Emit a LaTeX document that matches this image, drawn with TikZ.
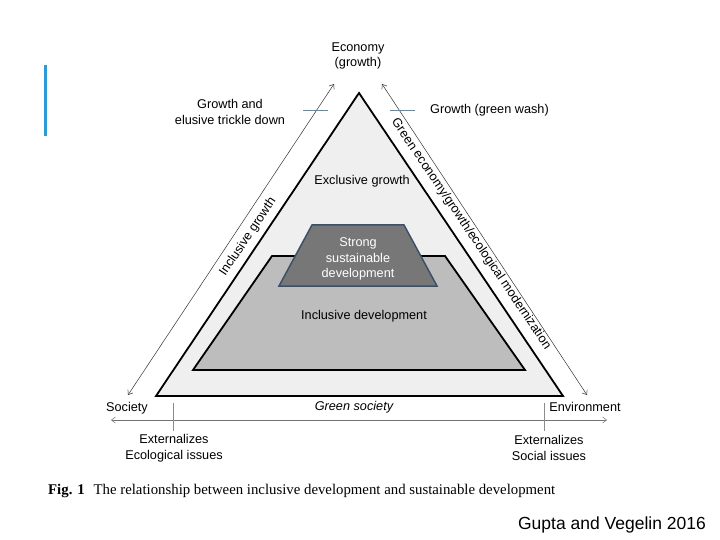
\documentclass[tikz,border=0pt]{standalone}
\usepackage{fontspec}
\setmainfont{Liberation Sans}
\newfontfamily\capfont{Liberation Serif}
\usetikzlibrary{arrows.meta}

\definecolor{outerfill}{HTML}{EFEFEF}
\definecolor{inclfill}{HTML}{BDBDBD}
\definecolor{strongfill}{HTML}{777777}
\definecolor{strongline}{HTML}{3E5068}
\definecolor{tickblue}{HTML}{6A8898}
\definecolor{barblue}{HTML}{2E9BD6}

\begin{document}
\begin{tikzpicture}[x=1pt,y=-1pt,
    lbl/.style={font=\fontsize{12.7}{15.5}\selectfont,align=center,inner sep=0pt},
    sidearrow/.style={draw=black!80,line width=0.5pt,
        {Straight Barb[length=4pt,width=6pt]}-{Straight Barb[length=4pt,width=6pt]}},
    basearrow/.style={draw=black!55,line width=0.5pt,
        {Straight Barb[length=4pt,width=6pt]}-{Straight Barb[length=4pt,width=6pt]}},
    tick/.style={draw=tickblue,line width=0.8pt},
    basetick/.style={draw=black!45,line width=0.6pt}]

        \useasboundingbox (0,0) rectangle (720,540);
        \fill[white] (0,0) rectangle (720,540);

        \draw[barblue,line width=3pt] (45,65) -- (45,136);

        \coordinate (top) at (359,93);
        \coordinate (bl) at (156,396);
        \coordinate (br) at (563,396);
        \draw[fill=outerfill,line width=1.8pt,line join=miter] (top) -- (br) -- (bl) -- cycle;

        \draw[fill=inclfill,line width=1.8pt] (272,256) -- (445,256) -- (525,370) -- (193,370) -- cycle;
        \draw[fill=strongfill,draw=strongline,line width=1.5pt] (312,225) -- (404,225) -- (437,286) -- (279,286) -- cycle;

        \coordinate (lsoc) at (128,395);
        \coordinate (leco) at (334,84);
        \coordinate (reco) at (382,84);
        \coordinate (renv) at (587,395);
        \draw[sidearrow] (lsoc) -- (leco);
        \draw[sidearrow] (reco) -- (renv);

        \coordinate (hleft) at (111,420);
        \coordinate (hright) at (607,420);
        \draw[basearrow] (hleft) -- (hright);

        \foreach \x in {173,544}
        {
            \draw[basetick] (\x,403) -- (\x,431);
        }
        \foreach \x in {303,390}
        {
            \draw[tick] (\x,110) -- ++(25,0);
        }

        \node[lbl] (eco) at (358,56) {Economy\\(growth)};
        \node[lbl] (trickle) at (230,112) {Growth and\\elusive trickle down};
        \node[lbl,anchor=west] (greenwash) at (430,110) {Growth (green wash)};
        \node[lbl] (exclusive) at (362,181) {Exclusive growth};
        \node[lbl,text=white] (strong) at (358,259) {Strong\\sustainable\\development};
        \node[lbl] (inclusive) at (364,316) {Inclusive development};
        \node[lbl] (society) at (127,408) {Society};
        \node[lbl,font=\fontsize{12.7}{15.5}\selectfont\itshape] (greensoc) at (354,407) {Green society};
        \node[lbl] (environment) at (585,407) {Environment};
        \node[lbl] (extleft) at (174,448) {Externalizes\\Ecological issues};
        \node[lbl] (extright) at (549,448) {Externalizes\\Social issues};
        \node[lbl,rotate=56] (ingrowth) at (248,237) {Inclusive growth};
        \node[lbl,rotate=-56] (greenecon) at (471,234) {Green economy/growth/ecological modernization};

        \node[lbl,anchor=west,font=\capfont\fontsize{14.8}{17}\selectfont] (caption) at (48,491)
            {\textbf{Fig. 1}\hspace{0.6em}The relationship between inclusive development and sustainable development};
        \node[lbl,font=\fontsize{17.5}{20}\selectfont] (source) at (612,525) {Gupta and Vegelin 2016};

\end{tikzpicture}
\end{document}
